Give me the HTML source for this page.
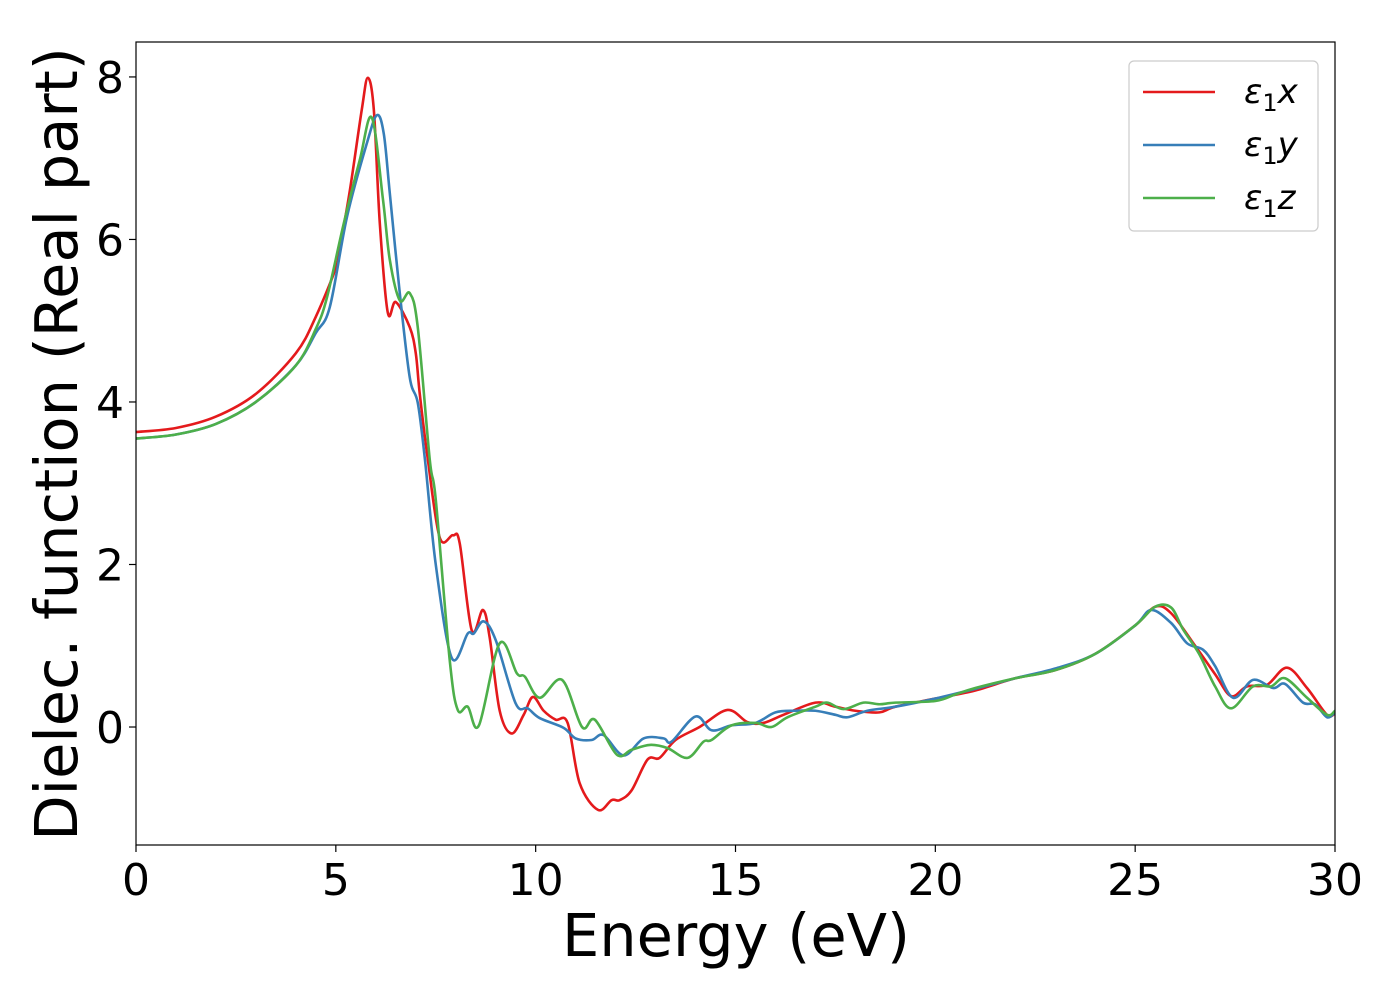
<!DOCTYPE html>
<html><head><meta charset="utf-8"><style>
body{margin:0;background:#fff;}
svg text{font-family:"DejaVu Sans","Liberation Sans",sans-serif;fill:#000;}
</style></head><body>
<svg id="chart" width="1400" height="1000" viewBox="0 0 1400 1000" xmlns="http://www.w3.org/2000/svg">
<g id="plot"></g>
</svg>
<script>
const xTicks=[0,5,10,15,20,25,30];
const yTicks=[0,2,4,6,8];
const seriesNames=["x","y","z"];
const seriesColors=["#e41a1c","#377eb8","#4daf4a"];
const redE=[0,1,2,3,4,4.5,5,5.1,5.35,5.65,5.8,5.95,6.1,6.3,6.5,6.85,7.0,7.1,7.3,7.6,7.93,8.1,8.4,8.68,8.85,9.1,9.4,9.7,9.93,10.2,10.5,10.8,11.1,11.56,11.9,12.1,12.4,12.8,13.1,13.5,14.1,14.8,15.3,15.7,16.2,17,17.5,18,18.6,19,20,21,22,23,24,25,25.5,25.9,26.5,27,27.4,27.8,28.3,28.8,29.3,29.8,30];
const redV=[3.63,3.68,3.82,4.1,4.6,5.05,5.65,5.9,6.6,7.6,7.99,7.6,6.2,5.1,5.23,4.92,4.6,4.1,3.3,2.33,2.36,2.26,1.19,1.44,1.1,0.2,-0.08,0.15,0.37,0.2,0.09,0.05,-0.69,-1.02,-0.9,-0.9,-0.78,-0.4,-0.38,-0.16,0,0.21,0.06,0.05,0.15,0.3,0.25,0.2,0.18,0.25,0.35,0.45,0.6,0.7,0.9,1.25,1.48,1.4,1.0,0.65,0.38,0.5,0.52,0.73,0.48,0.15,0.17];
const blueE=[0,1,2,3,4,4.5,4.85,5.28,5.78,6.03,6.2,6.35,6.6,6.85,7.05,7.23,7.5,7.9,8.3,8.45,8.7,9.0,9.5,9.8,10.1,10.7,11.0,11.4,11.7,12.2,12.7,13.2,13.4,14.0,14.4,14.9,15.5,16,16.5,17,17.5,17.8,18.3,19,20,21,22,23,24,25,25.4,25.9,26.3,26.7,27,27.45,27.95,28.45,28.75,29.2,29.5,29.8,30];
const blueV=[3.55,3.6,3.73,4.0,4.45,4.85,5.17,6.28,7.19,7.53,7.3,6.57,5.34,4.3,3.99,3.29,2.0,0.85,1.15,1.15,1.3,1.07,0.29,0.23,0.11,-0.01,-0.14,-0.16,-0.1,-0.35,-0.14,-0.14,-0.18,0.13,-0.04,0.02,0.05,0.18,0.2,0.2,0.15,0.12,0.2,0.25,0.35,0.47,0.6,0.72,0.9,1.25,1.44,1.28,1.03,0.95,0.75,0.36,0.58,0.48,0.53,0.3,0.28,0.12,0.18];
const greenE=[0,1,2,3,4,4.5,4.78,5.2,5.6,5.9,6.18,6.35,6.6,6.85,7.05,7.35,7.5,7.85,8.05,8.3,8.58,9.1,9.53,9.73,10.1,10.66,11.16,11.48,12.03,12.4,12.86,13.3,13.8,14.2,14.4,14.9,15.5,15.9,16.3,17,17.3,17.7,18.2,18.6,19,20,20.5,21,22,23,24,25,25.5,25.9,26.2,26.6,27,27.4,27.95,28.4,28.75,29.3,29.8,30];
const greenV=[3.55,3.6,3.73,4.0,4.45,4.9,5.29,6.2,6.98,7.5,6.49,5.75,5.25,5.34,4.92,3.29,2.8,0.82,0.21,0.25,0.02,1.03,0.66,0.62,0.36,0.58,0,0.09,-0.34,-0.28,-0.22,-0.26,-0.38,-0.18,-0.16,0.02,0.05,0.0,0.12,0.25,0.3,0.22,0.3,0.28,0.3,0.32,0.4,0.48,0.6,0.7,0.9,1.25,1.48,1.47,1.2,0.9,0.5,0.23,0.5,0.5,0.6,0.36,0.15,0.2];
const L=136,R=1335,T=42,B=845,xMin=0,xMax=30,yMin=-1.452,yMax=8.43;
const sx=v=>L+(v-xMin)/(xMax-xMin)*(R-L);
const sy=v=>B-(v-yMin)/(yMax-yMin)*(B-T);
const NS="http://www.w3.org/2000/svg";
const g=document.getElementById('plot');
function mk(t,a){const e=document.createElementNS(NS,t);for(const k in a)e.setAttribute(k,a[k]);return e;}
function path(E,V){const p=E.map((e,i)=>[sx(e),sy(V[i])]);let d=`M${p[0][0]},${p[0][1]}`;
for(let i=0;i<p.length-1;i++){const p0=p[Math.max(0,i-1)],p1=p[i],p2=p[i+1],p3=p[Math.min(p.length-1,i+2)];
const c1=[p1[0]+(p2[0]-p0[0])/6,p1[1]+(p2[1]-p0[1])/6],c2=[p2[0]-(p3[0]-p1[0])/6,p2[1]-(p3[1]-p1[1])/6];
d+=` C${c1[0]},${c1[1]} ${c2[0]},${c2[1]} ${p2[0]},${p2[1]}`;}return d;}
const clip=mk('clipPath',{id:'cp'});clip.appendChild(mk('rect',{x:L,y:T,width:R-L,height:B-T}));g.appendChild(clip);
const data=[[redE,redV],[blueE,blueV],[greenE,greenV]];
data.forEach((s,i)=>{const p=mk('path',{d:path(s[0],s[1]),fill:'none',stroke:seriesColors[i],'stroke-width':2.6,'clip-path':'url(#cp)'});


g.appendChild(p);});
const frame=mk('rect',{x:L,y:T,width:R-L,height:B-T,fill:'none',stroke:'#000','stroke-width':1.2});


g.appendChild(frame);
xTicks.forEach(v=>{const x=sx(v);g.appendChild(mk('line',{x1:x,x2:x,y1:B,y2:B+7,stroke:'#000','stroke-width':1.2}));
const t=mk('text',{x:x,y:B+50,'text-anchor':'middle','font-size':44});t.textContent=v;


g.appendChild(t);});
yTicks.forEach(v=>{const y=sy(v);g.appendChild(mk('line',{x1:L-7,x2:L,y1:y,y2:y,stroke:'#000','stroke-width':1.2}));
const t=mk('text',{x:L-12,y:y+16,'text-anchor':'end','font-size':44});t.textContent=v;


g.appendChild(t);});
const xt=mk('text',{x:736,y:956,'text-anchor':'middle','font-size':59});xt.textContent='Energy (eV)';


g.appendChild(xt);
const yt=mk('text',{x:0,y:0,'text-anchor':'middle','font-size':59,transform:'translate(77,444) rotate(-90)'});yt.textContent='Dielec. function (Real part)';


g.appendChild(yt);
const lg=mk('rect',{x:1129,y:61,width:189,height:170,rx:5,fill:'#fff',stroke:'#ccc','stroke-width':1.2});


g.appendChild(lg);
seriesNames.forEach((n,i)=>{const y=92+i*53;
const ln=mk('line',{x1:1143,x2:1215,y1:y,y2:y,stroke:seriesColors[i],'stroke-width':2.6});


g.appendChild(ln);
const t=mk('text',{x:1244,y:y+11,'font-size':34,'font-style':'italic'});
t.innerHTML='ε<tspan font-style="normal" font-size="24" dy="8">1</tspan><tspan dy="-8">'+n+'</tspan>';


g.appendChild(t);});
</script>
</body></html>
